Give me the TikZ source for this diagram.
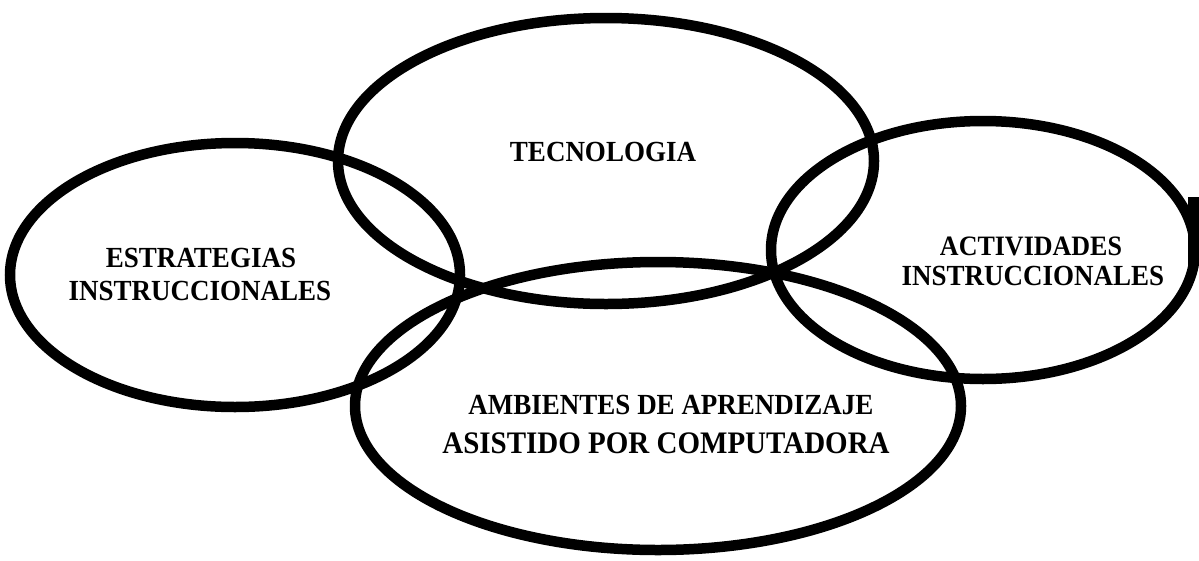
\documentclass[tikz,border=0pt]{standalone}
\usepackage{fontspec}
\setmainfont{Liberation Serif}
\usetikzlibrary{shapes.geometric}
\begin{document}
\begin{tikzpicture}[x=1pt,y=-1pt,
  ring/.style={draw=black, line width=10.5pt, ellipse, inner sep=0pt, outer sep=0pt},
  lbl/.style={font=\fontsize{27}{30}\selectfont\bfseries, inner sep=0pt, anchor=base, yscale=1.08},
  lblbig/.style={lbl, font=\fontsize{29}{32}\selectfont\bfseries}]
\useasboundingbox (0,0) rectangle (1199,560);
\clip (0,0) rectangle (1199,560);
\node[ring, minimum width=450pt, minimum height=264pt] (estr) at (235,275) {};
\node[ring, minimum width=536pt, minimum height=286pt] (tecn) at (606,161) {};
\node[ring, minimum width=424pt, minimum height=258pt] (acti) at (983,250) {};
\node[ring, minimum width=606pt, minimum height=288pt] (ambi) at (658,406) {};
\fill[black] (1188,197) rectangle (1199,265);
\node[lbl] (t1a) at (201,267) {ESTRATEGIAS};
\node[lbl] (t1b) at (200,300) {INSTRUCCIONALES};
\node[lbl] (t2) at (603,161) {TECNOLOGIA};
\node[lbl, font=\fontsize{26}{30}\selectfont\bfseries] (t3a) at (1031,255) {ACTIVIDADES};
\node[lbl] (t3b) at (1033,285) {INSTRUCCIONALES};
\node[lbl] (t4a) at (671,414) {AMBIENTES DE APRENDIZAJE};
\node[lblbig] (t4b) at (666,453) {ASISTIDO POR COMPUTADORA};
\end{tikzpicture}
\end{document}
